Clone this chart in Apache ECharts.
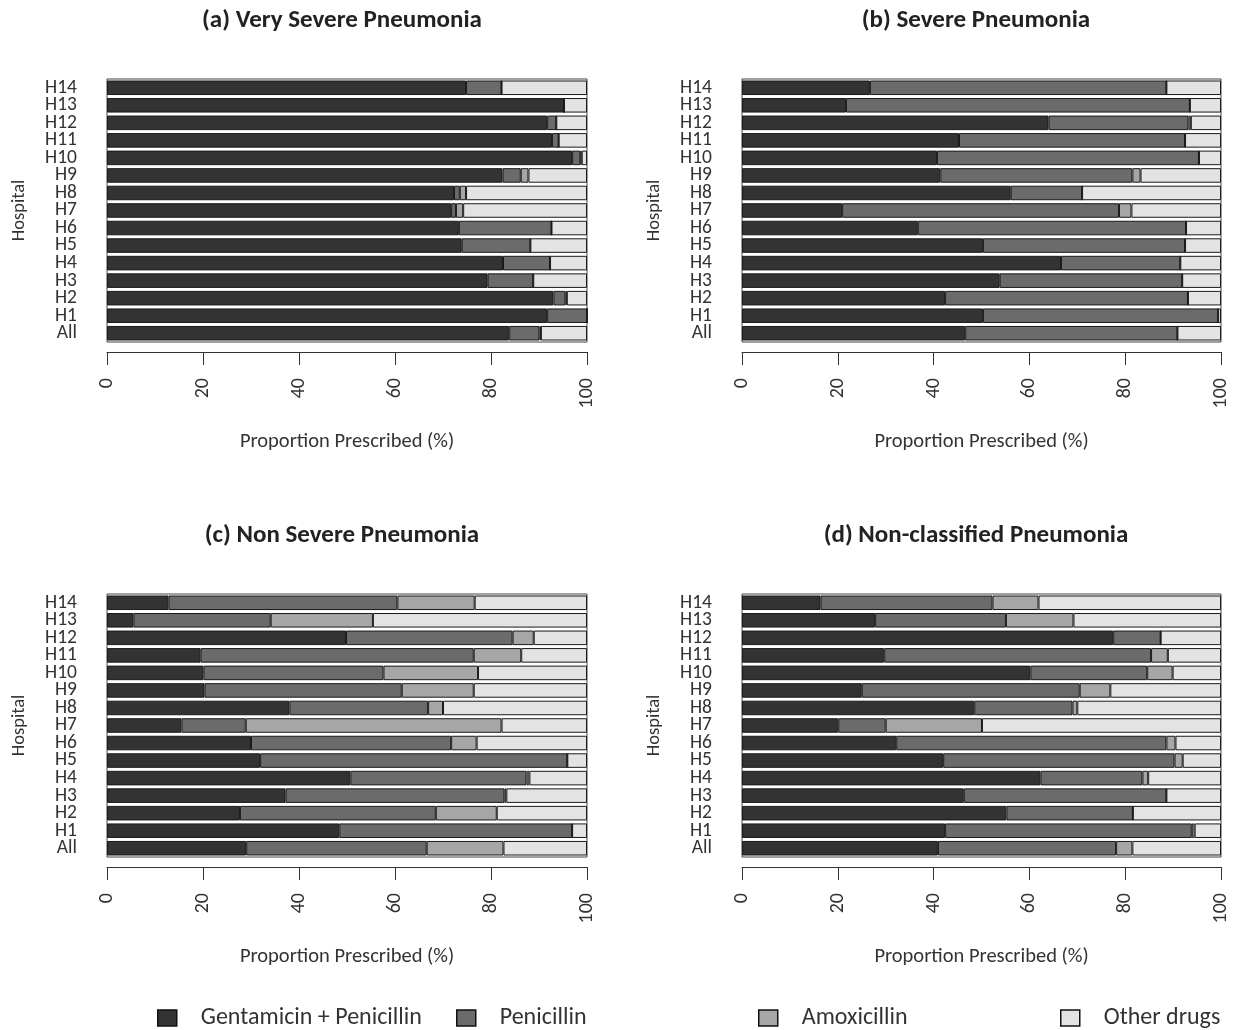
<!DOCTYPE html>
<html>
<head>
<meta charset="utf-8">
<script src="https://cdn.jsdelivr.net/npm/echarts@6/dist/echarts.min.js"></script>
<style>
  html, body { margin: 0; padding: 0; background: #fff; }
  #chart { width: 1239px; height: 1030px; }
</style>
</head>
<body>
<div id="chart"></div>
<script>
// Categories (bottom to top)
const hospitals = ['All', 'H1', 'H2', 'H3', 'H4', 'H5', 'H6', 'H7', 'H8', 'H9', 'H10', 'H11', 'H12', 'H13', 'H14'];
const drugNames = ['Gentamicin + Penicillin', 'Penicillin', 'Amoxicillin', 'Other drugs'];
const xTicks = [0, 20, 40, 60, 80, 100];
const panelTitles = ['(a) Very Severe Pneumonia', '(b) Severe Pneumonia', '(c) Non Severe Pneumonia', '(d) Non-classified Pneumonia'];

// (a) Very Severe Pneumonia
const vsGent  = [83.8, 91.7, 93.0, 79.3, 82.5, 73.9, 73.3, 71.7, 72.3, 82.4, 96.9, 92.7, 91.7, 95.2, 74.8];
const vsPen   = [6.3, 8.3, 2.5, 9.5, 9.8, 14.3, 19.3, 1.0, 1.2, 3.8, 1.7, 1.4, 1.9, 0, 7.4];
const vsAmox  = [0.3, 0, 0.3, 0, 0, 0, 0, 1.5, 1.3, 1.6, 0.3, 0, 0, 0, 0];
const vsOther = [9.6, 0, 4.2, 11.2, 7.7, 11.8, 7.4, 25.8, 25.2, 12.2, 1.1, 5.9, 6.4, 4.8, 17.8];

// (b) Severe Pneumonia
const sGent  = [46.6, 50.3, 42.4, 53.8, 66.6, 50.3, 36.7, 20.9, 56.1, 41.4, 40.7, 45.3, 64.0, 21.7, 26.7];
const sPen   = [44.3, 49.1, 50.7, 38.1, 24.9, 42.2, 56.0, 57.8, 14.9, 40.1, 54.7, 47.2, 29.2, 71.8, 61.9];
const sAmox  = [0, 0, 0, 0, 0, 0, 0, 2.6, 0, 1.7, 0, 0, 0.5, 0, 0];
const sOther = [9.1, 0.6, 6.9, 8.1, 8.5, 7.5, 7.3, 18.7, 29.0, 16.8, 4.6, 7.5, 6.3, 6.5, 11.4];

// (c) Non Severe Pneumonia
const nsGent  = [29.0, 48.4, 27.7, 37.2, 50.7, 31.9, 30.0, 15.5, 38.0, 20.3, 20.1, 19.5, 49.8, 5.5, 12.8];
const nsPen   = [37.6, 48.5, 40.8, 45.6, 36.7, 64.0, 41.7, 13.4, 28.9, 41.1, 37.5, 56.9, 34.7, 28.6, 47.7];
const nsAmox  = [16.0, 0, 12.7, 0.4, 0.6, 0, 5.3, 53.3, 3.1, 15.0, 19.7, 9.9, 4.4, 21.3, 16.1];
const nsOther = [17.4, 3.1, 18.8, 16.8, 12.0, 4.1, 23.0, 17.8, 30.0, 23.6, 22.7, 13.7, 11.1, 44.6, 23.4];

// (d) Non-classified Pneumonia
const ncGent  = [40.9, 42.4, 55.2, 46.3, 62.3, 42.0, 32.2, 20.1, 48.5, 25.0, 60.2, 29.7, 77.5, 27.8, 16.4];
const ncPen   = [37.2, 51.5, 26.4, 42.3, 21.3, 48.3, 56.4, 9.9, 20.5, 45.5, 24.4, 55.7, 9.9, 27.3, 35.9];
const ncAmox  = [3.4, 0.6, 0, 0, 1.2, 1.7, 1.9, 20.1, 1.0, 6.4, 5.3, 3.5, 0, 14.1, 9.6];
const ncOther = [18.5, 5.5, 18.4, 11.4, 15.2, 8.0, 9.5, 49.9, 30.0, 23.1, 10.1, 11.1, 12.6, 30.8, 38.1];

const panelData = [
  [vsGent, vsPen, vsAmox, vsOther],
  [sGent, sPen, sAmox, sOther],
  [nsGent, nsPen, nsAmox, nsOther],
  [ncGent, ncPen, ncAmox, ncOther]
];

const colors = ['#333333', '#6b6b6b', '#a6a6a6', '#e3e3e3'];
const FONT = "Carlito, 'Open Sans', sans-serif";
const TXT = '#333333';

const layouts = [
  { left: 107, top: 79,  width: 480, height: 263, titleX: 342 },
  { left: 742, top: 79,  width: 479, height: 263, titleX: 976 },
  { left: 107, top: 594, width: 480, height: 263, titleX: 342 },
  { left: 742, top: 594, width: 479, height: 263, titleX: 976 }
];

const grids = [], xAxes = [], yAxes = [], series = [], titles = [];
layouts.forEach((L, i) => {
  grids.push({ left: L.left, top: L.top, width: L.width, height: L.height, show: true,
    borderColor: '#444', borderWidth: 1, backgroundColor: 'transparent' });
  titles.push({ text: panelTitles[i], left: L.titleX, top: L.top - 71, textAlign: 'center', padding: 0,
    textStyle: { fontFamily: FONT, fontWeight: 'bold', fontSize: 25, color: '#222' } });
  xAxes.push({
    type: 'value', gridIndex: i, min: xTicks[0], max: xTicks[xTicks.length - 1], interval: 20,
    position: 'bottom', offset: 10,
    axisLine: { show: true, lineStyle: { color: '#333', width: 1 } },
    axisTick: { show: true, length: 13, lineStyle: { color: '#333', width: 1 } },
    axisLabel: { rotate: 90, margin: 26, fontFamily: FONT, fontSize: 20, color: TXT },
    splitLine: { show: false },
    name: 'Proportion Prescribed (%)', nameLocation: 'middle', nameGap: 79,
    nameTextStyle: { fontFamily: FONT, fontSize: 20.5, color: TXT }
  });
  yAxes.push({
    type: 'category', gridIndex: i, data: hospitals,
    axisLine: { show: false }, axisTick: { show: false },
    axisLabel: { interval: 0, margin: 30, fontFamily: FONT, fontSize: 19.5, color: TXT },
    splitLine: { show: false },
    name: 'Hospital', nameLocation: 'middle', nameGap: 78,
    nameTextStyle: { fontFamily: FONT, fontSize: 18.5, color: TXT }
  });
  panelData[i].forEach((vals, k) => {
    series.push({
      type: 'bar', name: drugNames[k], xAxisIndex: i, yAxisIndex: i, stack: 'p' + i,
      data: vals, barCategoryGap: '17%',
      itemStyle: { color: colors[k], borderColor: '#1a1a1a', borderWidth: 1 },
      emphasis: { disabled: true }, animation: false
    });
  });
});

const legendLefts = [157, 456, 758, 1060];
const legends = drugNames.map((n, k) => ({
  data: [n], left: legendLefts[k], top: 1006, padding: 0,
  icon: 'rect', itemWidth: 19, itemHeight: 16,
  itemStyle: { borderColor: '#111', borderWidth: 1.5 },
  textStyle: { fontFamily: FONT, fontSize: 24, color: TXT, padding: [0, 0, 0, 19] },
  selectedMode: false
}));

const chart = echarts.init(document.getElementById('chart'), null, { renderer: 'canvas' });
chart.setOption({
  backgroundColor: '#ffffff',
  animation: false,
  title: titles,
  legend: legends,
  grid: grids,
  xAxis: xAxes,
  yAxis: yAxes,
  series: series
});
</script>
</body>
</html>
